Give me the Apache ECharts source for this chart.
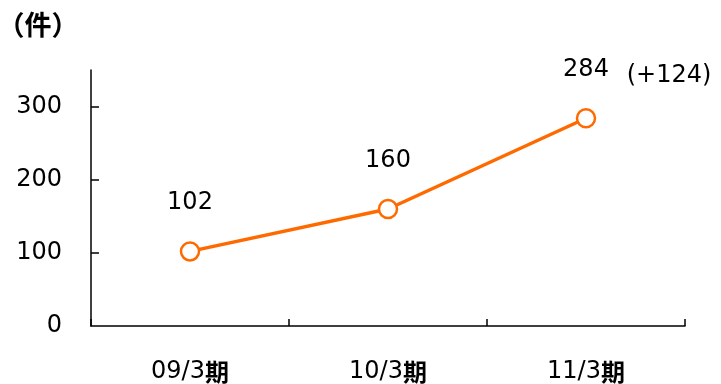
<!DOCTYPE html>
<html><head><meta charset="utf-8">
<script src="https://cdn.jsdelivr.net/npm/echarts@6/dist/echarts.min.js"></script>
<style>html,body{margin:0;padding:0;background:#fff}#c{width:721px;height:384px}</style>
</head><body><div id="c"></div>
<script>
var categories = ['09/3', '10/3', '11/3'];
var values = [102, 160, 284];
var diffs = ['', '', '(+124)'];
var yTicks = [0, 100, 200, 300];
var unitLabel = '（件）';

var FONT = '"DejaVu Sans", "Noto Sans CJK JP", sans-serif';
var CJK = '"Noto Sans CJK JP", sans-serif';
var chart = echarts.init(document.getElementById('c'), null, {renderer: 'canvas'});
chart.setOption({
  animation: false,
  textStyle: {fontFamily: FONT},
  grid: {left: 91, right: 36, top: 70, bottom: 58, outerBoundsMode: 'none', containLabel: false},
  xAxis: {
    type: 'category', data: categories, boundaryGap: true,
    axisLine: {lineStyle: {color: '#000', width: 1.5}},
    axisTick: {show: true, interval: 0, inside: true, length: 7, lineStyle: {color: '#000', width: 1.5}},
    axisLabel: {
      margin: 34,
      formatter: function (v) { return '{n|' + v + '}{k|期}'; },
      rich: {
        n: {fontSize: 24, color: '#000', fontFamily: FONT},
        k: {fontSize: 24, color: '#000', fontWeight: 'bold', fontFamily: CJK}
      }
    }
  },
  yAxis: {
    type: 'value', min: 0, max: 350, interval: 50,
    name: unitLabel, nameLocation: 'end', nameGap: 32,
    nameTextStyle: {fontSize: 27, fontWeight: 'bold', fontFamily: CJK, color: '#000',
      align: 'center', padding: [0, 106, 0, 0]},
    splitLine: {show: false},
    axisLine: {show: true, lineStyle: {color: '#000', width: 1.5}},
    axisTick: {show: true, inside: true, length: 8, lineStyle: {color: '#000', width: 1.5},
      customValues: yTicks.slice(1)},
    axisLabel: {fontSize: 24, color: '#000', margin: 29, customValues: yTicks}
  },
  series: [{
    type: 'line', data: values,
    lineStyle: {color: '#FF6A00', width: 3.5},
    itemStyle: {color: '#fff', borderColor: '#FF6A00', borderWidth: 2.5},
    symbol: 'circle', symbolSize: 18, showAllSymbol: true,
    label: {show: true, position: 'top', distance: 26, fontSize: 24, color: '#000'}
  }, {
    type: 'scatter', data: values, symbolSize: 1, silent: true,
    itemStyle: {color: 'rgba(0,0,0,0)', opacity: 1},
    label: {show: true, position: 'top', distance: 26, offset: [83, -4], fontSize: 24, color: '#000',
      formatter: function (p) { return diffs[p.dataIndex]; }}
  }]
});
</script></body></html>
